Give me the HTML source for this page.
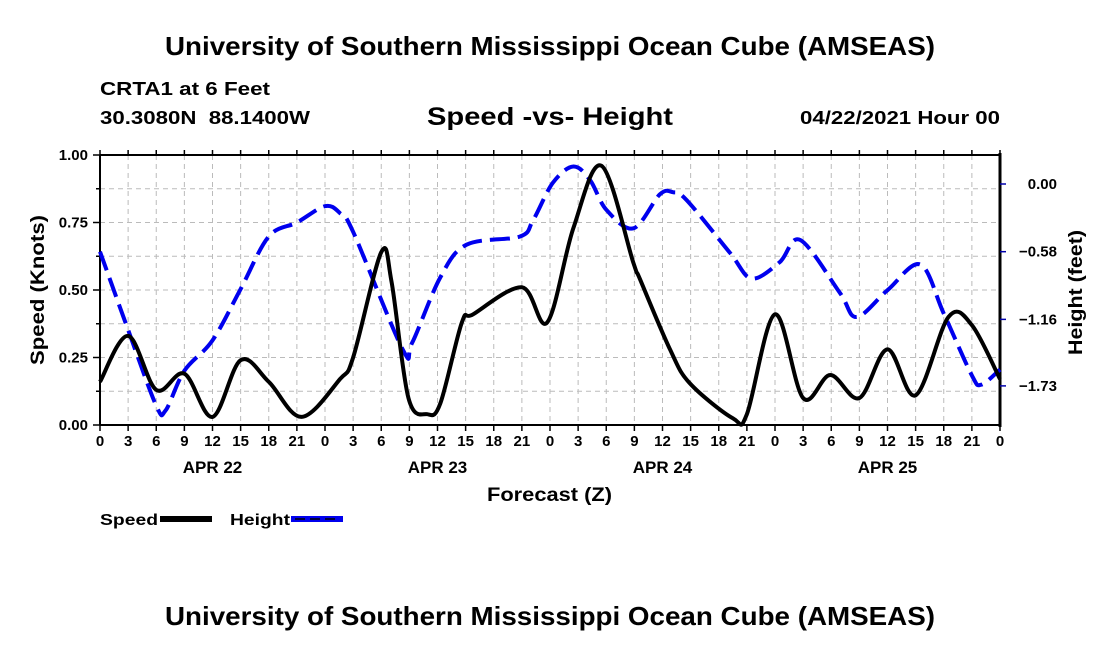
<!DOCTYPE html>
<html><head><meta charset="utf-8"><style>
html,body{margin:0;padding:0;background:#fff;}
svg{display:block;font-family:"Liberation Sans",sans-serif;}
</style></head><body>
<svg id="chart" width="1100" height="650" viewBox="0 0 1100 650">
<text x="165" y="55" font-size="26" font-weight="bold" textLength="770" lengthAdjust="spacingAndGlyphs">University of Southern Mississippi Ocean Cube (AMSEAS)</text>
<text x="100" y="95" font-size="18" font-weight="bold" textLength="170" lengthAdjust="spacingAndGlyphs">CRTA1 at 6 Feet</text>
<text x="100" y="124" font-size="18" font-weight="bold" textLength="210" lengthAdjust="spacingAndGlyphs" xml:space="preserve">30.3080N  88.1400W</text>
<text x="427" y="125" font-size="25" font-weight="bold" textLength="246" lengthAdjust="spacingAndGlyphs">Speed -vs- Height</text>
<text x="800" y="124" font-size="18" font-weight="bold" textLength="200" lengthAdjust="spacingAndGlyphs">04/22/2021 Hour 00</text>
<g id="grid"></g>
<g id="axes"></g>
<g id="series"></g>
<text transform="translate(44,365) rotate(-90)" font-size="19" font-weight="bold" textLength="150" lengthAdjust="spacingAndGlyphs">Speed (Knots)</text>
<text transform="translate(1082,355) rotate(-90)" font-size="19" font-weight="bold" textLength="125" lengthAdjust="spacingAndGlyphs">Height (feet)</text>
<text x="487" y="501" font-size="19" font-weight="bold" textLength="125" lengthAdjust="spacingAndGlyphs">Forecast (Z)</text>
<g>
<text x="100" y="525" font-size="16" font-weight="bold" textLength="58" lengthAdjust="spacingAndGlyphs">Speed</text>
<rect x="160" y="516" width="52" height="6" fill="#000"/>
<text x="230" y="525" font-size="16" font-weight="bold" textLength="60" lengthAdjust="spacingAndGlyphs">Height</text>
<rect x="291" y="516" width="52" height="6" fill="#0000ee"/>
<path d="M295 519h10M310 519h10M325 519h10" stroke="#000" stroke-width="1.5"/>
</g>
<text x="165" y="625" font-size="26" font-weight="bold" textLength="770" lengthAdjust="spacingAndGlyphs">University of Southern Mississippi Ocean Cube (AMSEAS)</text>
</svg>
<script>
const speedHours=[0,3,6,9,12,15,18,21.5,25.6,27,30,31.1,32.9,34.9,36.3,38.6,39.8,45,47.7,50.5,53.5,56.9,57.6,60.8,62.9,67.5,69,72,75,77.9,81,84,87,90.5,93,96];
const speedValues=[0.16,0.33,0.13,0.19,0.03,0.24,0.16,0.03,0.17,0.25,0.64,0.53,0.10,0.04,0.08,0.38,0.41,0.51,0.38,0.73,0.96,0.60,0.54,0.28,0.155,0.025,0.04,0.41,0.10,0.185,0.10,0.28,0.11,0.40,0.37,0.17];
const heightHours=[0,3,6,7,9,12,15,18,21,24,25.6,27,32.3,33.3,36.3,39.1,44.8,46.2,48.3,50.5,52.3,54,56.9,59.7,61.1,62.6,67.2,69.5,72.5,74.7,78.9,80.7,84,87.5,90,93,94,96];
const heightValues=[-0.58,-1.25,-1.90,-1.94,-1.60,-1.34,-0.90,-0.45,-0.33,-0.19,-0.25,-0.41,-1.42,-1.36,-0.80,-0.52,-0.45,-0.31,0.01,0.15,0.03,-0.22,-0.38,-0.09,-0.07,-0.14,-0.59,-0.81,-0.67,-0.48,-0.93,-1.14,-0.91,-0.69,-1.11,-1.64,-1.72,-1.59];
const speedTicks=["0.00","0.25","0.50","0.75","1.00"];
const heightTicks=[0.00,-0.58,-1.16,-1.73];
const dayLabels=["APR 22","APR 23","APR 24","APR 25"];
const L=100,R=1000,T=155,B=425;
const xs=h=>L+h*(R-L)/96;
const ys=v=>B-v*(B-T);
const yh=h=>184-h*116.7;
const NS="http://www.w3.org/2000/svg";
function mk(parent,tag,attrs){const e=document.createElementNS(NS,tag);for(const k in attrs)e.setAttribute(k,attrs[k]);document.getElementById(parent).appendChild(e);return e;}
for(let i=1;i<32;i++){const x=xs(i*3);const e=mk('grid','line',{x1:x,x2:x,y1:T,y2:B,stroke:'#bbb','stroke-dasharray':'5,4'});

}
for(let i=1;i<8;i++){const y=ys(i*0.125);const e=mk('grid','line',{x1:L,x2:R,y1:y,y2:y,stroke:'#bbb','stroke-dasharray':'5,4'});

}
mk('axes','line',{x1:L,x2:R,y1:T,y2:T,stroke:'#000','stroke-width':2});
mk('axes','line',{x1:L,x2:R,y1:B,y2:B,stroke:'#000','stroke-width':2});
mk('axes','line',{x1:L,x2:L,y1:T,y2:B,stroke:'#000','stroke-width':2});
mk('axes','line',{x1:R,x2:R,y1:T-2,y2:B+2,stroke:'#000','stroke-width':3});
for(let i=0;i<=32;i++){const x=xs(i*3);
mk('axes','line',{x1:x,x2:x,y1:B,y2:B+6,stroke:'#000','stroke-width':1.5});
mk('axes','line',{x1:x,x2:x,y1:T,y2:T-5,stroke:'#000','stroke-width':1.5});
const t=mk('axes','text',{x:x,y:B+21,'text-anchor':'middle','font-size':15,'font-weight':'bold'});
t.textContent=String((i*3)%24);

}
dayLabels.forEach((d,i)=>{const t=mk('axes','text',{x:xs(i*24+12),y:B+48,'text-anchor':'middle','font-size':17,'font-weight':'bold'});t.textContent=d;

});
for(let i=0;i<=8;i++){const y=ys(i*0.125);mk('axes','line',{x1:L-(i%2?4:7),x2:L,y1:y,y2:y,stroke:'#000','stroke-width':1.5});}
speedTicks.forEach(s=>{const t=mk('axes','text',{x:L-12,y:ys(+s)+5,'text-anchor':'end','font-size':15,'font-weight':'bold'});t.textContent=s;

});
heightTicks.forEach(h=>{const y=yh(h);mk('axes','line',{x1:R,x2:R+6,y1:y,y2:y,stroke:'#0000aa','stroke-width':1.5});
const t=mk('axes','text',{x:1057,y:y+5,'text-anchor':'end','font-size':15,'font-weight':'bold'});t.textContent=h.toFixed(2).replace('-','\u2212');

});
function smooth(pts){let d='M'+pts[0][0]+' '+pts[0][1];for(let i=0;i<pts.length-1;i++){const p0=pts[Math.max(0,i-1)],p1=pts[i],p2=pts[i+1],p3=pts[Math.min(pts.length-1,i+2)];
const c1=[p1[0]+(p2[0]-p0[0])/6,p1[1]+(p2[1]-p0[1])/6],c2=[p2[0]-(p3[0]-p1[0])/6,p2[1]-(p3[1]-p1[1])/6];
d+=` C${c1[0]} ${c1[1]} ${c2[0]} ${c2[1]} ${p2[0]} ${p2[1]}`;}return d;}
const hp=mk('series','path',{d:smooth(heightHours.map((h,i)=>[xs(h),yh(heightValues[i])])),fill:'none',stroke:'#0000ee','stroke-width':4,'stroke-dasharray':'20,8'});


const sp=mk('series','path',{d:smooth(speedHours.map((h,i)=>[xs(h),ys(speedValues[i])])),fill:'none',stroke:'#000','stroke-width':4});


</script>
</body></html>
